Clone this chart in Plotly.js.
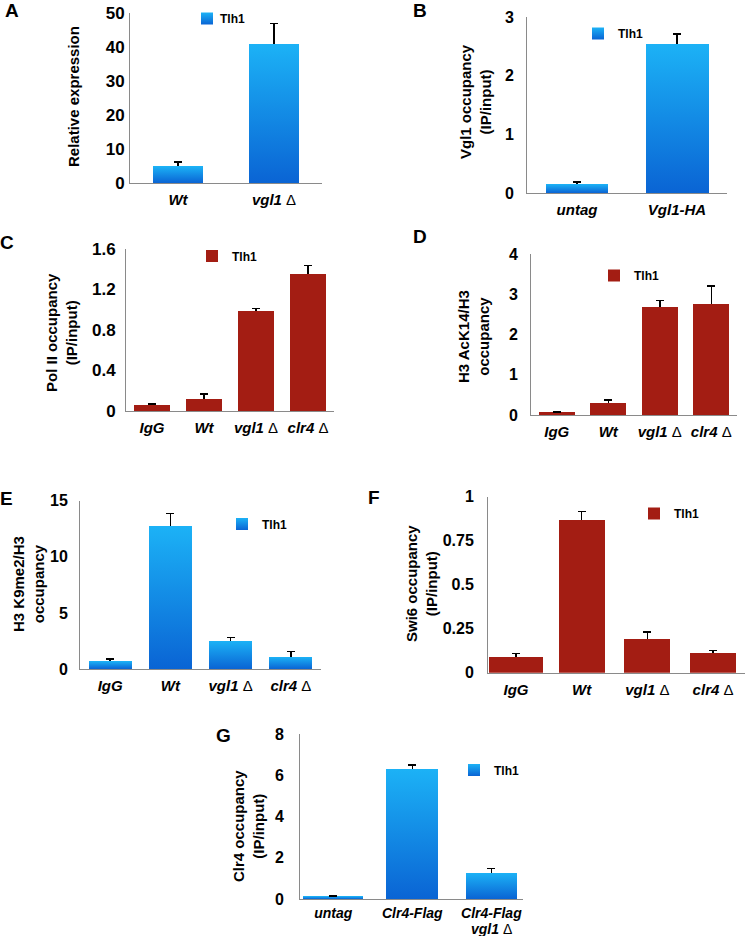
<!DOCTYPE html>
<html>
<head>
<meta charset="utf-8">
<script src="https://cdn.plot.ly/plotly-3.0.1.min.js"></script>
<style>html,body{margin:0;padding:0;background:#fff;}#chart{width:745px;height:936px;}</style>
</head>
<body>
<div id="chart"></div>
<script>
// ---------------- DATA ----------------
const seriesName = "Tlh1";

const catsA = ["Wt", "vgl1 Δ"];
const valsA = [4.9, 40.9];
const errA  = [1.3, 6.0];
const ticksA = ["<i>Wt</i>", "<i>vgl1</i> <span style='font-weight:normal'>Δ</span>"];

const catsB = ["untag", "Vgl1-HA"];
const valsB = [0.15, 2.54];
const errB  = [0.04, 0.17];
const ticksB = ["<i>untag</i>", "<i>Vgl1-HA</i>"];

const catsC = ["IgG", "Wt", "vgl1 Δ", "clr4 Δ"];
const valsC = [0.055, 0.12, 0.985, 1.35];
const errC  = [0.015, 0.05, 0.025, 0.085];

const catsD = ["IgG", "Wt", "vgl1 Δ", "clr4 Δ"];
const valsD = [0.07, 0.31, 2.69, 2.77];
const errD  = [0.01, 0.06, 0.16, 0.43];

const catsE = ["IgG", "Wt", "vgl1 Δ", "clr4 Δ"];
const valsE = [0.69, 12.74, 2.5, 1.07];
const errE  = [0.2, 1.14, 0.29, 0.47];

const catsF = ["IgG", "Wt", "vgl1 Δ", "clr4 Δ"];
const valsF = [0.091, 0.868, 0.19, 0.11];
const errF  = [0.017, 0.047, 0.04, 0.017];

const ticks4 = ["<i>IgG</i>", "<i>Wt</i>",
  "<i>vgl1</i> <span style='font-weight:normal'>Δ</span>",
  "<i>clr4</i> <span style='font-weight:normal'>Δ</span>"];

const catsG = ["untag", "Clr4-Flag", "Clr4-Flag vgl1 Δ"];
const valsG = [0.13, 6.31, 1.26];
const errG  = [0.02, 0.18, 0.21];
const ticksG = ["<i>untag</i>", "<i>Clr4-Flag</i>", "<i>Clr4-Flag</i>"];
const ticksG2 = "<i>vgl1</i> <span style='font-weight:normal'>Δ</span>";

const yTicksA = [0, 10, 20, 30, 40, 50];
const yTicksB = [0, 1, 2, 3];
const yTicksC = [0, 0.4, 0.8, 1.2, 1.6];
const yTickTextC = ["0", "0.4", "0.8", "1.2", "1.6"];
const yTicksD = [0, 1, 2, 3, 4];
const yTicksE = [0, 5, 10, 15];
const yTicksF = [0, 0.25, 0.5, 0.75, 1];
const yTickTextF = ["0", "0.25", "0.5", "0.75", "1"];
const yTicksG = [0, 2, 4, 6, 8];

const yTitles = {
  A: "Relative expression",
  B: "Vgl1 occupancy<br>(IP/input)",
  C: "Pol II occupancy<br>(IP/input)",
  D: "H3 AcK14/H3<br>occupancy",
  E: "H3 K9me2/H3<br>occupancy",
  F: "Swi6 occupancy<br>(IP/input)",
  G: "Clr4 occupancy<br>(IP/input)"
};

// ---------------- STYLE / LAYOUT ----------------
const W = 745, H = 936;
const BLUE = "rgb(21,140,230)";
const RED = "rgb(163,29,19)";
const px = v => v / W;
const py = v => 1 - v / H;

const panels = [
  {id:"A", cats:catsA, vals:valsA, err:errA, ticks:ticksA, color:BLUE, box:[130,322,13,183], xr:[-0.5,1.5], yr:[0,50], yt:yTicksA, ytt:null, widths:[0.53,0.52], leg:[187,18.5], title:[74,97], letter:[12,11], yfs:17, so:1, xfs:15, xso:3},
  {id:"B", cats:catsB, vals:valsB, err:errB, ticks:ticksB, color:BLUE, box:[527,727,17,193], xr:[-0.5,1.5], yr:[0,3], yt:yTicksB, ytt:null, widths:[0.62,0.63], leg:[578,33.5], title:[475,102], letter:[420,11], yfs:16, so:9, xfs:15, xso:3},
  {id:"C", cats:catsC, vals:valsC, err:errC, ticks:ticks4, color:RED, box:[126,334,249,411], xr:[-0.5,3.5], yr:[0,1.6], yt:yTicksC, ytt:yTickTextC, widths:[0.71,0.71,0.71,0.71], leg:[192,256], title:[61,333], letter:[7,243], yfs:17, so:6, xfs:15, xso:3},
  {id:"D", cats:catsD, vals:valsD, err:errD, ticks:ticks4, color:RED, box:[531,737,254,415], xr:[-0.5,3.5], yr:[0,4], yt:yTicksD, ytt:null, widths:[0.7,0.7,0.7,0.7], leg:[594,275.5], title:[473,337], letter:[420,236], yfs:16, so:9, xfs:15, xso:3},
  {id:"E", cats:catsE, vals:valsE, err:errE, ticks:ticks4, color:BLUE, box:[80,321,500.7,669], xr:[-0.5,3.5], yr:[0,15], yt:yTicksE, ytt:null, widths:[0.71,0.71,0.71,0.71], leg:[222,524], title:[28,584], letter:[6,498], yfs:16, so:8, xfs:15, xso:3},
  {id:"F", cats:catsF, vals:valsF, err:errF, ticks:ticks4, color:RED, box:[488,745,496.7,672.7], xr:[-0.426,3.486], yr:[0,1], yt:yTicksF, ytt:yTickTextF, widths:[0.82,0.7,0.7,0.7], leg:[634,513.5], title:[421,584], letter:[374,497], yfs:16, so:10, xfs:15, xso:3},
  {id:"G", cats:catsG, vals:valsG, err:errG, ticks:ticksG, color:BLUE, box:[300,523,734,899], xr:[-0.42,2.40], yr:[0,8], yt:yTicksG, ytt:null, widths:[0.76,0.66,0.65], leg:[454,770], title:[248,826], letter:[223,735], yfs:16, so:12, xfs:14, xso:1}
];

const FONT = "Liberation Sans, Arial, Helvetica, sans-serif";
const data = [];
const layout = {
  width: W, height: H,
  margin: {l:0, r:0, t:0, b:0},
  paper_bgcolor: "#fff", plot_bgcolor: "rgba(0,0,0,0)",
  font: {family: FONT, size: 14, color: "#000", weight: "bold"},
  showlegend: true,
  annotations: [],
  bargap: 0
};

panels.forEach((p, i) => {
  const n = i === 0 ? "" : String(i + 1);
  const legName = i === 0 ? "legend" : "legend" + (i + 1);
  data.push({
    type: "bar",
    x: p.cats, y: p.vals,
    width: p.widths,
    name: seriesName,
    xaxis: "x" + n, yaxis: "y" + n,
    legend: legName,
    marker: {color: p.color, line: {width: 0}},
    error_y: {type: "data", symmetric: false, array: p.err, arrayminus: p.err.map(() => 0),
              color: "#000", thickness: 1.5, width: 4},
    hoverinfo: "skip"
  });
  const [x0, x1, yT, yB] = p.box;
  layout["xaxis" + n] = {
    domain: [px(x0), px(x1)], anchor: "y" + n,
    type: "category", range: p.xr,
    tickvals: p.cats, ticktext: p.ticks,
    showline: true, linecolor: "#8a8a8a", linewidth: 1,
    showgrid: false, zeroline: false, ticks: "",
    ticklabelstandoff: p.xso,
    tickfont: {family: FONT, size: p.xfs, color: "#000", weight: "bold"},
    fixedrange: true
  };
  layout["yaxis" + n] = {
    domain: [py(yB), py(yT)], anchor: "x" + n,
    range: p.yr, tickvals: p.yt,
    ticktext: p.ytt || p.yt.map(String),
    showline: true, linecolor: "#8a8a8a", linewidth: 1,
    showgrid: false, zeroline: false, ticks: "",
    ticklabelstandoff: p.so,
    tickfont: {family: FONT, size: p.yfs, color: "#000", weight: "bold"},
    fixedrange: true
  };
  layout[legName] = {
    x: px(p.leg[0]), y: py(p.leg[1]), xanchor: "left", yanchor: "middle",
    bgcolor: "rgba(0,0,0,0)", borderwidth: 0,
    font: {family: FONT, size: 12, color: "#000", weight: "bold"},
    itemclick: false, itemdoubleclick: false
  };
  layout.annotations.push({
    text: yTitles[p.id], xref: "paper", yref: "paper",
    x: px(p.title[0]), y: py(p.title[1]), xanchor: "center", yanchor: "middle",
    textangle: -90, showarrow: false,
    font: {family: FONT, size: 15, color: "#000", weight: "bold"}
  });
  layout.annotations.push({
    text: p.id, xref: "paper", yref: "paper",
    x: px(p.letter[0]), y: py(p.letter[1]), xanchor: "center", yanchor: "middle",
    showarrow: false,
    font: {family: FONT, size: 19, color: "#000", weight: "bold"}
  });
});

// second line of the last G tick label
layout.annotations.push({
  text: ticksG2, xref: "x7", yref: "paper",
  x: catsG[2], y: py(928.5), xanchor: "center", yanchor: "middle",
  showarrow: false,
  font: {family: FONT, size: 14, color: "#000", weight: "bold"}
});

function postProcess(gd) {
  const NS = "http://www.w3.org/2000/svg";
  gd.querySelectorAll("svg.main-svg").forEach(s => {
    if (s.querySelector("#blueGrad")) return;
    let d = s.querySelector("defs");
    if (!d) { d = document.createElementNS(NS, "defs"); s.insertBefore(d, s.firstChild); }
    const grad = document.createElementNS(NS, "linearGradient");
    grad.setAttribute("id", "blueGrad");
    grad.setAttribute("x1", "0"); grad.setAttribute("y1", "0");
    grad.setAttribute("x2", "0"); grad.setAttribute("y2", "1");
    [["0%", "rgb(28,178,246)"], ["100%", "rgb(10,100,212)"]].forEach(([o, c]) => {
      const st = document.createElementNS(NS, "stop");
      st.setAttribute("offset", o); st.setAttribute("stop-color", c);
      grad.appendChild(st);
    });
    d.appendChild(grad);
  });
  const target = "rgb(21, 140, 230)";
  gd.querySelectorAll(".barlayer path, .legendpoints path").forEach(el => {
    if (el.style.fill === target) el.style.fill = "url(#blueGrad)";
  });
  // error bars: keep only the upper cap
  gd.querySelectorAll(".errorbar path.yerror").forEach(el => {
    const d = el.getAttribute("d");
    el.setAttribute("d", d.replace(/m-?[\d.]+,0h[\d.]+$/, ""));
  });
  // tighten gap between legend swatch and its text
  gd.querySelectorAll("text.legendtext").forEach(t => {
    t.setAttribute("transform", "translate(-7,0)");
  });
}

Plotly.newPlot("chart", data, layout, {staticPlot: true, displayModeBar: false}).then(gd => {
  postProcess(gd);
  setTimeout(() => postProcess(gd), 30);
});
</script>
</body>
</html>
